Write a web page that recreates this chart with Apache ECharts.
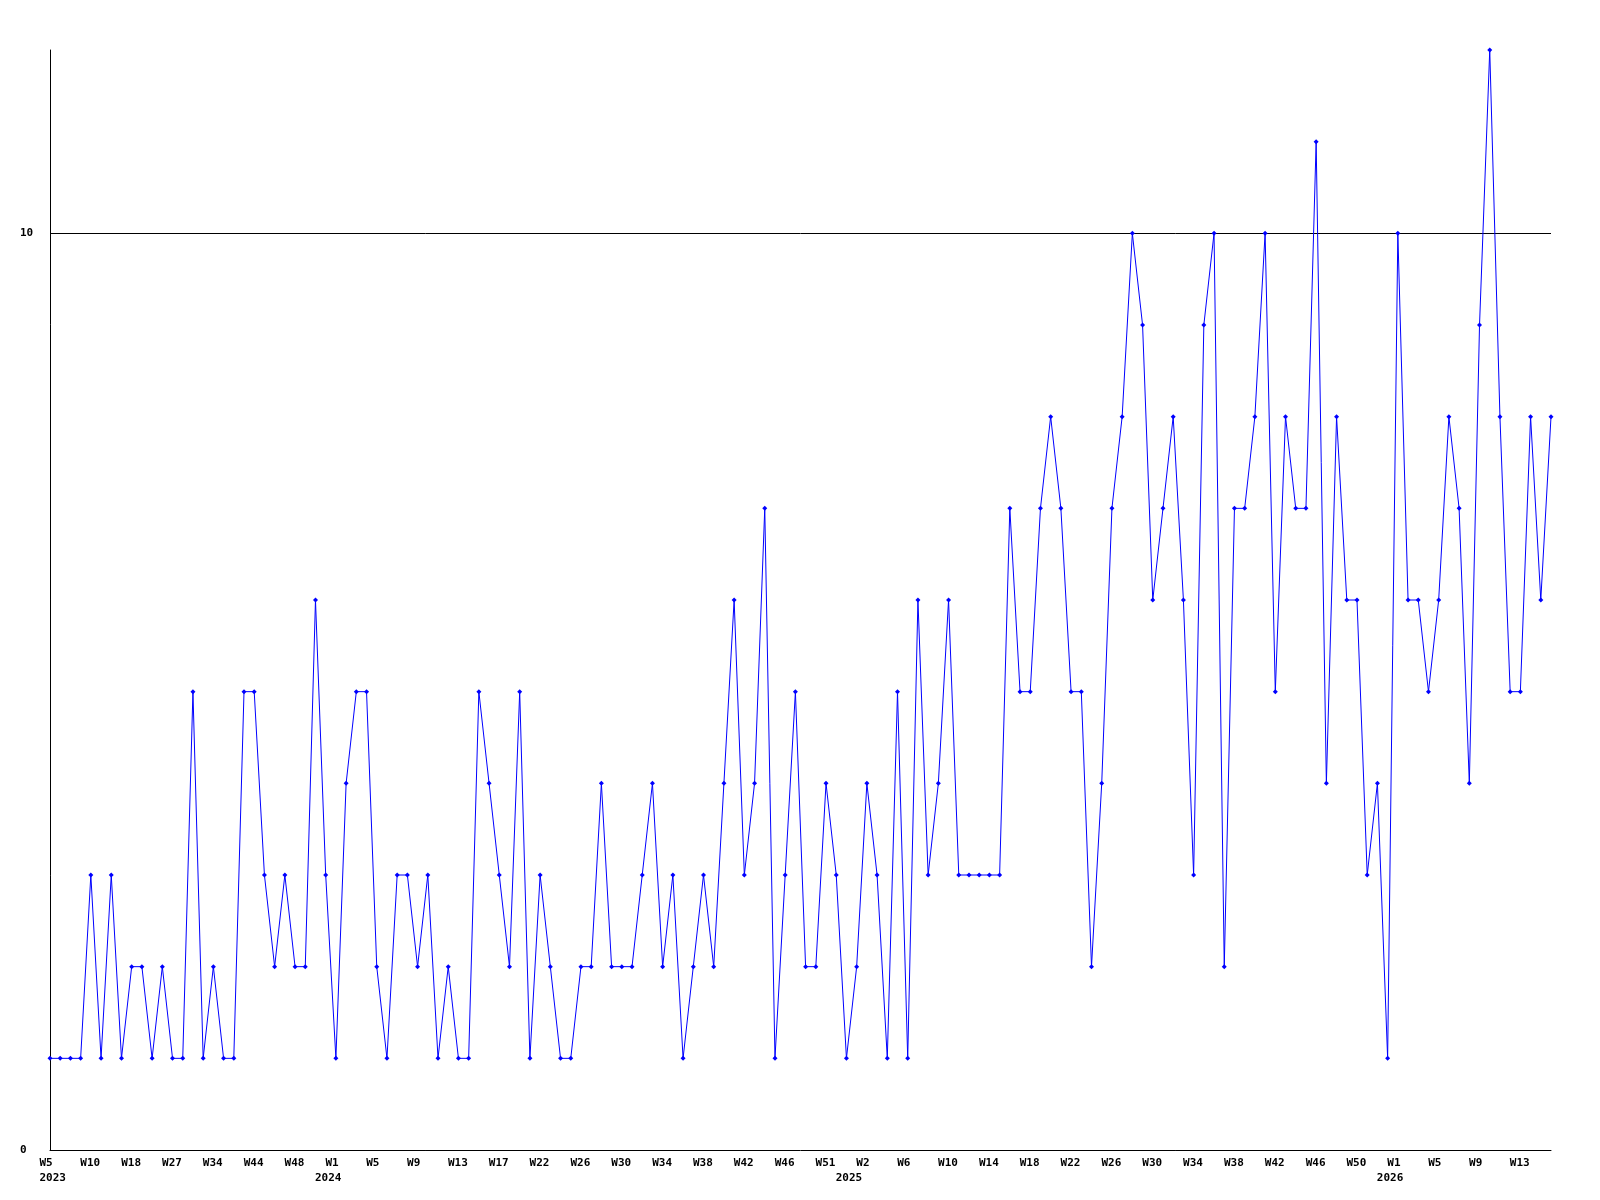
<!DOCTYPE html>
<html>
<head>
<meta charset="utf-8">
<script src="https://cdn.jsdelivr.net/npm/echarts@6/dist/echarts.min.js"></script>
<style>
html,body{margin:0;padding:0;background:#fff;}
#chart{width:1600px;height:1200px;}
</style>
</head>
<body>
<div id="chart"></div>
<script>
// week numbers per year (only every 4th one is shown on the axis)
var weeks2023 = [5,6,7,9,10,12,14,16,18,20,22,25,27,29,30,32,34,37,39,41,44,45,46,47,48,49,50,52]
var weeks2024 = [1,2,3,4,5,6,7,8,9,10,11,12,13,14,15,16,17,18,19,21,22,23,24,25,26,27,28,29,30,31,32,33,34,35,36,37,38,39,40,41,42,43,44,45,46,47,48,50,51,52,53]
var weeks2025 = [1,2,3,4,5,6,7,8,9,10,11,12,13,14,15,16,17,18,19,20,21,22,23,24,25,26,27,28,29,30,31,32,33,34,35,36,37,38,39,40,41,42,43,44,45,46,47,48,49,50,51,52,53]
var weeks2026 = [1,2,3,4,5,6,7,8,9,10,11,12,13,14,15,16]

var counts = [
    1,1,1,1,3,1,3,1,2,2,1,2,1,1,5,1,2,1,1,5,5,3,2,3,2,2,6,3,
    1,4,5,5,2,1,3,3,2,3,1,2,1,1,5,4,3,2,5,1,3,2,1,1,2,2,4,2,2,2,3,4,2,3,1,2,3,2,4,6,3,4,7,1,3,5,2,2,4,3,1,
    2,4,3,1,5,1,6,3,4,6,3,3,3,3,3,7,5,5,7,8,7,5,5,2,4,7,8,10,9,6,7,8,6,3,9,10,2,7,7,8,10,5,8,7,7,11,4,8,6,6,3,4,1,
    10,6,6,5,6,8,7,4,9,12,8,5,5,8,6,8
]

var categories = []
var years = []
function addYear(y, list){
    list.forEach(function(w){
        categories.push('W' + w)
        years.push(y)
    })
}
addYear(2023, weeks2023)
addYear(2024, weeks2024)
addYear(2025, weeks2025)
addYear(2026, weeks2026)

var font = {
    fontFamily: 'DejaVu Sans Mono',
    fontWeight: 'bold',
    fontSize: 11,
    color: '#000'
}

function firstOfYear(index){
    return index === 0 || years[index] !== years[index - 1]
}

var chart = echarts.init(document.getElementById('chart'))
chart.setOption({
    animation: false,
    backgroundColor: '#fff',
    grid: {
        left: 50,
        right: 49,
        top: 50,
        bottom: 50
    },
    xAxis: [{
        type: 'category',
        data: categories,
        boundaryGap: false,
        axisLine: {show: true, lineStyle: {color: '#000', width: 1}},
        axisTick: {show: false},
        splitLine: {show: false},
        axisLabel: Object.assign({}, font, {
            interval: 3,
            margin: 6,
            lineHeight: 15,
            formatter: function(value){
                return '{w|' + value + '}'
            },
            rich: {
                w: Object.assign({}, font, {width: 21, align: 'left', lineHeight: 15})
            }
        })
    }, {
        // second row: the year, under the first week of each year
        type: 'category',
        data: categories,
        position: 'bottom',
        boundaryGap: false,
        axisLine: {show: false},
        axisTick: {show: false},
        splitLine: {show: false},
        axisLabel: Object.assign({}, font, {
            interval: function(index){
                return firstOfYear(index)
            },
            margin: 21,
            lineHeight: 15,
            formatter: function(value, index){
                return index === 0 ? '{f|' + years[index] + '}' : '{y|' + years[index] + '}'
            },
            rich: {
                y: Object.assign({}, font, {width: 42, align: 'left', lineHeight: 15}),
                f: Object.assign({}, font, {width: 21, align: 'left', lineHeight: 15})
            }
        })
    }],
    yAxis: {
        type: 'value',
        min: 0,
        max: 12,
        interval: 10,
        axisLine: {show: true, lineStyle: {color: '#000', width: 1}},
        axisTick: {show: false},
        splitLine: {
            show: true,
            showMinLine: false,
            showMaxLine: false,
            lineStyle: {color: '#000', width: 1, type: 'solid'}
        },
        axisLabel: Object.assign({}, font, {
            align: 'left',
            margin: 30,
            showMaxLabel: false,
            formatter: function(v){
                return v % 10 === 0 ? String(v) : ''
            }
        })
    },
    series: [{
        type: 'line',
        data: counts,
        symbol: 'diamond',
        symbolSize: 5,
        showAllSymbol: true,
        lineStyle: {color: '#0000ff', width: 1},
        itemStyle: {color: '#0000ff'},
        emphasis: {disabled: true}
    }]
})
</script>
</body>
</html>
